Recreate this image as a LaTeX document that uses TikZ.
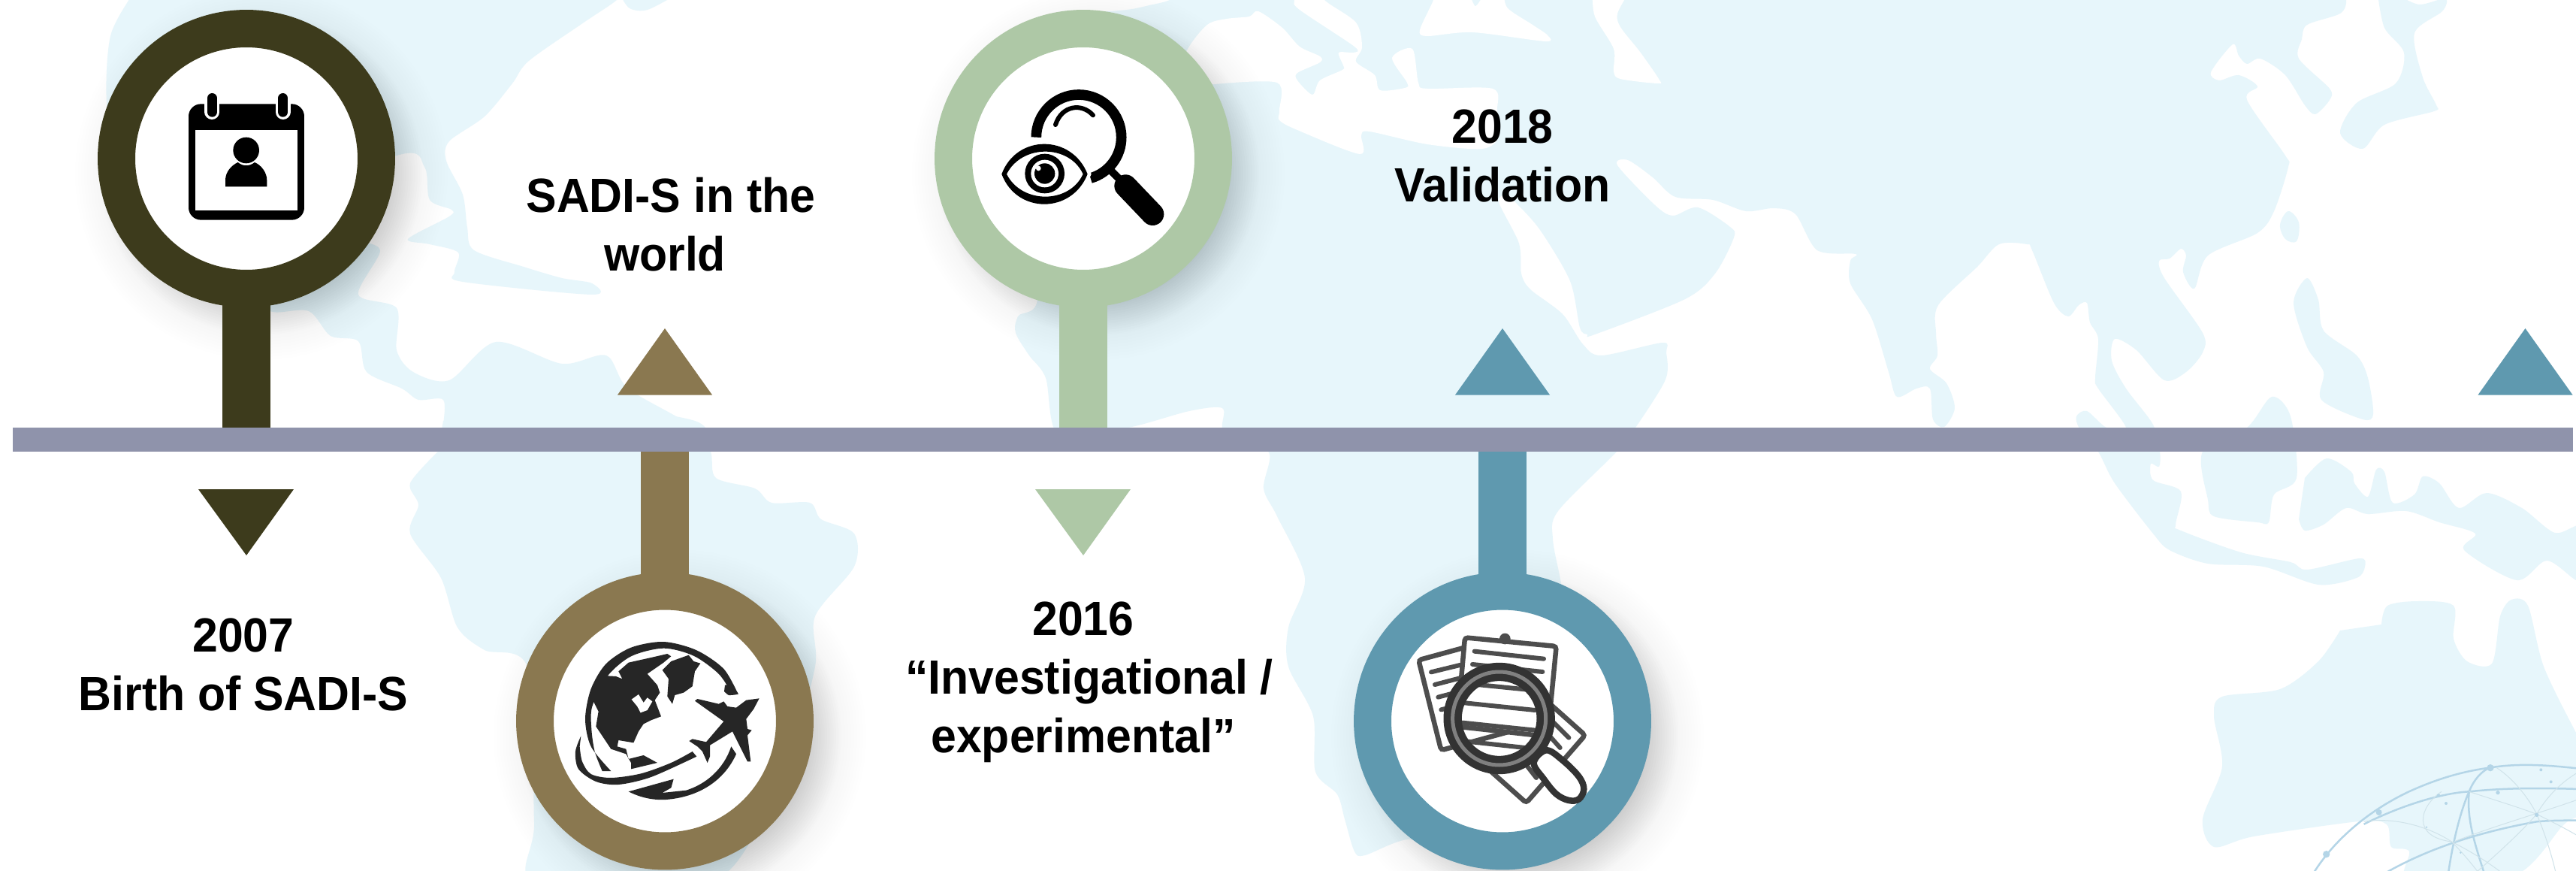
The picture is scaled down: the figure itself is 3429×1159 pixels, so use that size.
\documentclass[tikz,border=0pt]{standalone}
\usepackage{fontspec}
\setmainfont[FakeStretch=.95]{Liberation Sans}
\definecolor{olive}{HTML}{3D3B1C}
\definecolor{tan}{HTML}{8A7850}
\definecolor{sage}{HTML}{AEC8A6}
\definecolor{teal}{HTML}{5F99AF}
\definecolor{barcol}{HTML}{8F93AB}
\definecolor{landcol}{HTML}{E7F6FB}
\definecolor{inkdark}{HTML}{262626}
\definecolor{docgray}{HTML}{4D4D4D}
\definecolor{lensdark}{HTML}{333333}
\definecolor{netA}{HTML}{B4D5E7}
\definecolor{netB}{HTML}{D0E3EA}
\tikzset{
  land/.style={fill=landcol},
  sea/.style={fill=white},
  ring/.style={circle,draw=#1,fill=white,line width=1cm,minimum size=6.92cm,inner sep=0pt,outer sep=0pt},
  stem/.style={draw=#1,line width=1.28cm},
  timebar/.style={rectangle,fill=barcol,minimum width=68.16cm,minimum height=.64cm,inner sep=0pt,outer sep=0pt},
  label/.style={align=center,inner sep=0pt,outer sep=0pt,font=\fontsize{36.4}{44.4}\selectfont\bfseries},
  netthick/.style={draw=netA,line width=.05cm},
  netthin/.style={draw=netB,line width=.02cm},
  netdot/.style={fill=netA},
  docline/.style={draw=docgray,line width=.12cm,line cap=round},
}
\newcommand{\softshadow}[2]{%
  \foreach \rr in {172,176,...,248}{\fill[black!75!teal,opacity=.005] (#1+20,#2+20) circle (\rr);}%
  \foreach \rr in {172,175,...,214}{\fill[black!75!teal,opacity=.006] (#1+20,#2+20) circle (\rr);}%
}
\begin{document}
\begin{tikzpicture}[yscale=-1,x=.02cm,y=.02cm]
\useasboundingbox (0,0) rectangle (3429,1159);
\clip (0,0) rectangle (3429,1159);
\fill[white] (0,0) rectangle (3429,1159);

% ---------- map: Americas
\fill[land] plot[smooth,tension=.5] coordinates {(182,-15)(147,48)(143,150)(170,230)(300,300)(528,207)(565,222)(572,266)(601,279)(598,288)(543,318)(572,325)(610,336)(605,362)(616,375)(788,392)(788,377)(748,370)(697,355)(631,333)(622,303)(616,259)(594,214)(598,188)(645,155)(682,111)(704,81)(777,30)(821,0)(835,-20)(700,-40)(300,-40)} -- cycle;
\fill[land] plot[smooth,tension=.5] coordinates {(470,320)(506,333)(477,392)(528,410)(528,466)(550,495)(598,506)(660,455)(748,484)(807,473)(836,517)(917,565)(935,601)(760,620)(590,601)(590,569)(590,532)(557,532)(535,517)(488,495)(477,454)(440,447)(411,414)(363,415)(340,395)(400,330)} -- cycle;
\fill[land] plot[smooth,tension=.5] coordinates {(590,560)(760,540)(925,560)(946,601)(953,636)(1005,650)(1027,669)(1078,669)(1093,691)(1137,710)(1137,754)(1085,820)(1085,887)(1050,1000)(955,1170)(715,1175)(711,1094)(703,890)(645,865)(609,835)(587,769)(546,710)(557,672)(546,643)(583,601)} -- cycle;
\fill[land] plot[smooth,tension=.5] coordinates {(825,-8)(838,11)(862,13)(902,-8)} -- cycle;

% ---------- map: Africa, Eurasia
\fill[land] plot[smooth,tension=.5] coordinates {(1380,25)(1440,18)(1500,13)(1530,7)(1557,0)(1575,-15)(1700,-40)(3000,-40)(3110,-15)(3123,0)(3115,18)(3071,33)(3064,52)(3060,78)(3101,118)(3101,133)(3082,152)(3068,140)(3042,100)(3009,78)(2991,85)(2980,74)(2972,59)(2943,96)(2954,107)(2980,100)(3005,115)(2991,133)(3042,207)(3046,222)(3027,281)(3005,310)(2939,340)(2921,384)(2906,362)(2910,340)(2903,331)(2888,344)(2874,347)(2881,370)(2932,443)(2932,469)(2910,495)(2881,506)(2844,466)(2815,451)(2811,480)(2830,517)(2866,565)(2875,601)(2874,621)(2863,617)(2866,639)(2903,654)(2896,698)(2903,706)(2983,735)(3049,748)(3071,758)(3141,743)(3148,754)(3137,769)(3086,778)(3013,754)(2939,750)(2888,732)(2866,710)(2815,643)(2793,601)(2768,570)(2764,554)(2778,547)(2804,569)(2830,569)(2793,517)(2789,503)(2793,451)(2782,429)(2778,403)(2767,406)(2753,421)(2734,403)(2705,333)(2698,325)(2661,325)(2632,355)(2580,406)(2577,443)(2579,473)(2569,491)(2591,510)(2602,543)(2588,568)(2573,558)(2569,517)(2551,517)(2525,528)(2514,495)(2492,425)(2463,377)(2463,347)(2470,338)(2419,333)(2390,285)(2361,277)(2324,281)(2280,266)(2230,262)(2200,236)(2167,213)(2153,220)(2203,273)(2227,287)(2260,276)(2303,302)(2308,316)(2283,364)(2243,398)(2123,445)(2113,445)(2103,436)(2090,374)(2050,306)(2017,269)(2005,260)(1995,269)(2022,324)(2025,364)(2037,385)(2080,418)(2107,458)(2132,473)(2213,456)(2218,469)(2217,505)(2177,569)(2151,602)(2074,680)(2067,717)(2078,776)(2090,850)(2050,1000)(1950,1120)(1873,1117)(1817,1138)(1803,1133)(1790,1090)(1780,1057)(1751,1027)(1748,953)(1715,887)(1715,835)(1737,769)(1700,687)(1682,650)(1689,602)(1640,590)(1627,569)(1627,543)(1583,547)(1502,569)(1410,580)(1392,503)(1370,473)(1352,443)(1355,421)(1380,380)(1300,100)} -- cycle;
% seas cut into the land
\fill[sea] plot[smooth,tension=.5] coordinates {(1560,120)(1580,67)(1607,33)(1633,25)(1663,22)(1675,15)(1707,37)(1730,62)(1757,75)(1757,83)(1727,97)(1727,107)(1747,126)(1757,107)(1787,93)(1788,87)(1782,70)(1802,70)(1803,62)(1730,13)(1723,0)(1728,-20)(1758,-20)(1763,0)(1805,30)(1813,63)(1805,82)(1830,100)(1837,120)(1870,117)(1873,110)(1853,77)(1880,65)(1888,110)(1900,118)(1987,118)(1993,147)(1995,182)(1973,198)(1900,192)(1823,175)(1812,180)(1810,205)(1727,173)(1703,160)(1703,147)(1700,110)(1617,112)} -- cycle;
\fill[sea] plot[smooth,tension=.5] coordinates {(1905,-8)(1908,0)(1890,40)(1900,48)(1960,43)(2057,55)(2060,47)(2040,33)(2007,11)(2002,-8)} -- cycle;
\fill[land] plot[smooth,tension=.5] coordinates {(1958,-4)(1964,8)(1973,-4)} -- cycle;
\fill[sea] plot[smooth,tension=.5] coordinates {(2120,-8)(2123,22)(2148,65)(2148,95)(2157,105)(2207,111)(2208,105)(2183,69)(2157,36)(2153,18)(2167,-8)} -- cycle;
% islands
\fill[land] plot[smooth,tension=.5] coordinates {(3165,-8)(3174,37)(3200,70)(3189,111)(3137,137)(3115,177)(3145,198)(3174,166)(3240,148)(3243,140)(3225,103)(3214,44)(3251,15)(3255,-2)(3220,6)(3190,-8)} -- cycle;
\fill[land] plot[smooth cycle,tension=.6] coordinates {(3046,281)(3060,296)(3057,321)(3042,318)(3035,299)};
\fill[land] plot[smooth cycle,tension=.5] coordinates {(3071,370)(3086,399)(3093,440)(3137,473)(3152,503)(3159,551)(3145,558)(3090,532)(3093,495)(3071,462)(3053,403)};
\fill[land] plot[smooth cycle,tension=.5] coordinates {(3024,528)(3049,554)(3057,636)(3027,658)(3020,695)(3005,695)(2947,687)(2939,665)(2932,601)(2991,569)};
\fill[land] plot[smooth,tension=.5] coordinates {(3068,636)(3097,610)(3130,628)(3134,643)(3152,661)(3163,625)(3174,628)(3185,669)(3214,658)(3225,634)(3247,643)(3273,676)(3310,656)(3357,676)(3401,709)(3440,700)(3445,770)(3429,772)(3390,746)(3350,772)(3280,732)(3295,710)(3247,695)(3203,680)(3152,684)(3123,676)(3093,698)(3068,706)(3060,691)} -- cycle;
\fill[land] plot[smooth,tension=.5] coordinates {(3170,831)(3178,806)(3218,800)(3266,806)(3266,850)(3284,880)(3317,883)(3328,820)(3343,798)(3365,806)(3386,887)(3429,975)(3445,1000)(3445,1075)(3413,1097)(3347,1165)(3207,1175)(3207,1133)(3183,1127)(3177,1097)(3140,1093)(3000,1113)(2947,1127)(2932,1090)(2958,1020)(2947,953)(2958,927)(3035,917)(3086,880)(3115,839)} -- cycle;

% ---------- globe network, bottom right corner
\begin{scope}[shift={(3000,950)},scale=.33333]
  \draw[netthick] (230,650) .. controls (300,530) and (430,400) .. (620,310) .. controls (730,260) and (830,230) .. (940,215) .. controls (1060,195) and (1180,205) .. (1300,218);
  \draw[netthick] (440,440) .. controls (600,360) and (760,315) .. (860,310) .. controls (1000,295) and (1150,295) .. (1300,300);
  \draw[netthick] (500,650) .. controls (650,560) and (850,480) .. (1130,430) .. controls (1180,425) and (1240,425) .. (1300,425);
  \draw[netthick] (775,650) .. controls (790,540) and (820,400) .. (860,310) .. controls (880,260) and (910,230) .. (940,215);
  \draw[netthick] (925,650) .. controls (880,510) and (850,420) .. (860,310);
  \draw[netthin] (750,310) .. controls (660,370) and (630,490) .. (790,510) .. controls (840,560) and (880,610) .. (910,650);
  \draw[netthin] (440,430) .. controls (560,410) and (700,450) .. (790,510) .. controls (870,550) and (950,600) .. (1010,650);
  \draw[netthin] (970,215) .. controls (1040,260) and (1100,340) .. (1130,400) .. controls (1160,470) and (1190,560) .. (1210,650);
  \draw[netthin] (860,310) .. controls (950,340) and (1050,370) .. (1130,400) .. controls (1190,430) and (1250,460) .. (1300,490);
  \draw[netthin] (1300,230) .. controls (1230,270) and (1170,330) .. (1130,400) .. controls (1060,480) and (970,560) .. (880,640);
  \draw[netthin] (800,510) .. controls (950,450) and (1130,400) .. (1300,340);
  \fill[netdot] (945,215) circle (14);
  \fill[netdot] (500,393) circle (12);
  \fill[netdot] (290,560) circle (14);
  \fill[netdot] (738,326) circle (7);
  \fill[netdot] (975,314) circle (8);
  \fill[netdot] (1130,403) circle (8);
  \fill[netdot] (1147,223) circle (6);
  \fill[netdot] (1187,271) circle (6);
  \fill[netdot] (768,357) circle (6);
  \fill[netdot] (690,452) circle (4);
  \fill[netdot] (826,554) circle (4);
\end{scope}

% ---------- shadows
\softshadow{328}{211}
\softshadow{885}{959.5}
\softshadow{1442}{211}
\softshadow{2000}{959.5}

% ---------- timeline
\node[timebar] (bar) at (1721,585) {};
\node[ring=olive] (c1) at (328,211) {};
\node[ring=tan] (c2) at (885,959.5) {};
\node[ring=sage] (c3) at (1442,211) {};
\node[ring=teal] (c4) at (2000,959.5) {};
\draw[stem=olive] (c1.south) -- (c1.south |- bar.north);
\draw[stem=tan] (c2.north) -- (c2.north |- bar.south);
\draw[stem=sage] (c3.south) -- (c3.south |- bar.north);
\draw[stem=teal] (c4.north) -- (c4.north |- bar.south);

% ---------- triangles
\fill[olive] (264,651) -- (391,651) -- (328,739) -- cycle;
\fill[tan] (822,525.5) -- (948,525.5) -- (885,437) -- cycle;
\fill[sage] (1378,651) -- (1505,651) -- (1442,739) -- cycle;
\fill[teal] (1937,525.5) -- (2063,525.5) -- (2000,437) -- cycle;
\fill[teal] (3298.5,525.5) -- (3424.5,525.5) -- (3361.5,437) -- cycle;

% ---------- labels
\node[label] (t1) at (324,884) {2007\\Birth of SADI-S};
\node[label] (t2) at (893,299) {SADI-S in the\\world\hspace*{.32cm}};
\node[label] (t3) at (1450,908) {2016\hspace*{.32cm}\\“Investigational /\\experimental”\hspace*{.32cm}};
\node[label] (t4) at (2000,207) {2018\\Validation};

% ---------- calendar icon
\begin{scope}[shift={(100,0)},scale=.33333]
  \fill[black,rounded corners=.33cm] (453,415) rectangle (915,878);
  \fill[white] (479,520) rectangle (888,841);
  \draw[white,line width=.4cm,line cap=round] (547,392) -- (547,447) (830,392) -- (830,447);
  \draw[black,line width=.267cm,line cap=round] (547,392) -- (547,447) (830,392) -- (830,447);
  \fill[black] (683,600) circle (52);
  \fill[black] (600,745) -- (600,720) .. controls (600,685) and (625,660) .. (650,648) .. controls (670,665) and (696,665) .. (717,648) .. controls (745,660) and (766,690) .. (766,720) -- (766,745) -- cycle;
\end{scope}

% ---------- eye and magnifier icon
\begin{scope}[shift={(1220,0)},scale=.33333]
  \draw[black,line width=.274cm] (478,548) arc[start angle=180,end angle=434,radius=170];
  \draw[black,line width=.2cm] (775,680) -- (840,745);
  \draw[black,line width=.6cm,line cap=round] (835,742) -- (943,855);
  \draw[black,line width=.12cm,line cap=round] (555,498) .. controls (580,420) and (660,410) .. (705,460);
  \fill[white] (325,695) .. controls (390,525) and (630,525) .. (698,695) .. controls (630,865) and (390,865) .. cycle;
  \fill[black,even odd rule] (340,695) .. controls (400,535) and (620,535) .. (683,695) .. controls (620,855) and (400,855) .. cycle
     (360,695) .. controls (420,575) and (610,575) .. (665,695) .. controls (610,815) and (420,815) .. cycle;
  \fill[black] (512,693) circle (79);
  \fill[white] (512,693) circle (55);
  \fill[black] (512,693) circle (41);
  \fill[white] (487,672) circle (10);
\end{scope}

% ---------- globe and plane icon
\begin{scope}[shift={(680,740)},scale=.33333]
  \fill[inkdark] plot[smooth,tension=.5] coordinates {(908,552)(850,450)(740,375)(610,342)(480,365)(380,430)(320,530)(297,650)(320,760)(400,858)} -- (365,858) -- plot[smooth,tension=.5] coordinates {(365,858)(335,780)(322,690)(325,600)(385,480)(480,400)(610,368)(730,398)(830,470)(880,545)} -- cycle;
  \fill[inkdark] plot[smooth,tension=.3] coordinates {(855,515)(880,515)(908,550)(870,555)(852,540)};
  \fill[inkdark] (385,478) -- (420,480) -- (445,490) -- (430,460) -- (470,425) -- (560,405) -- (625,390) -- (640,400) -- (610,425) -- (545,470) -- (585,515) -- (595,545) -- (575,575) -- (600,640) -- (560,655) -- (530,670) -- (510,700) -- (490,745) -- (430,735) -- (425,760) -- (460,770) -- (470,810) -- (530,795) -- (585,825) -- (480,850) -- (480,825) -- (460,790) -- (400,770) -- (340,680) -- (350,620) -- (330,580) -- (345,500) -- cycle;
  \fill[white] (482,572) -- (510,552) -- (530,585) -- (545,565) -- (565,580) -- (545,615) -- (518,625) -- (505,600) -- cycle;
  \fill[inkdark] (605,455) -- (640,420) -- (710,395) -- (730,420) -- (757,428) -- (735,460) -- (725,520) -- (690,545) -- (655,555) -- (645,590) -- (625,560) -- (630,490) -- cycle;
  \fill[inkdark] plot[smooth,tension=.5] coordinates {(280,718)(258,780)(270,850)(340,900)(430,912)(560,882)(742,800)} -- plot[smooth,tension=.5] coordinates {(725,780)(640,825)(520,868)(400,885)(320,870)(285,820)(275,760)} -- cycle;
  \fill[inkdark] (470,940) -- (650,890) -- (640,925) -- (605,945) -- (700,935) .. controls (780,910) and (850,850) .. (880,760) -- (900,790) .. controls (860,880) and (770,960) .. (620,972) .. controls (570,975) and (520,965) .. (470,940) -- cycle;
  \fill[inkdark] (992,568) -- (970,610) -- (940,650) -- (945,690) -- (962,695) -- (945,715) -- (958,820) -- (945,820) -- (885,700) -- (795,755) -- (795,800) -- (785,825) -- (765,780) -- (745,760) -- (712,738) -- (725,730) -- (780,742) -- (850,660) -- (735,578) -- (745,570) -- (830,590) -- (850,580) -- (865,600) -- (900,605) -- (940,575) -- cycle;
\end{scope}

% ---------- documents and magnifier icon
\begin{scope}[shift={(1780,740)},scale=.33333]
  \draw[docgray,fill=white,line width=.13cm,rounded corners=.08cm] (990,715) -- (755,985) -- (480,740) -- (715,470) -- cycle;
  \draw[docline] (865,665) -- (925,725) (850,720) -- (890,765) (760,840) -- (795,885);
  \draw[docgray,fill=white,line width=.13cm,rounded corners=.08cm] (325,415) -- (600,340) -- (690,700) -- (415,775) -- cycle;
  \draw[docline] (375,463) -- (490,435) (390,513) -- (490,487) (403,563) -- (460,548) (415,613) -- (440,607);
  \draw[docgray,fill=white,line width=.13cm,rounded corners=.08cm] (510,325) -- (875,360) -- (840,720) -- (478,680) -- cycle;
  \fill[docgray] (670,330) circle (22);
  \draw[docline] (548,380) -- (825,410) (540,432) -- (820,462) (530,510) -- (780,535) (500,585) -- (790,615) (500,665) -- (790,695) (520,740) -- (750,765);
  \draw[lensdark,fill=white,line width=.17cm] plot[smooth cycle,tension=.6] coordinates {(835,775)(900,815)(965,880)(985,930)(965,970)(925,975)(875,950)(825,890)(785,825)};
  \draw[lensdark,line width=.487cm] (647,648) circle (186);
  \draw[black!50,line width=.1cm] (647,648) circle (186);
\end{scope}
\end{tikzpicture}
\end{document}
